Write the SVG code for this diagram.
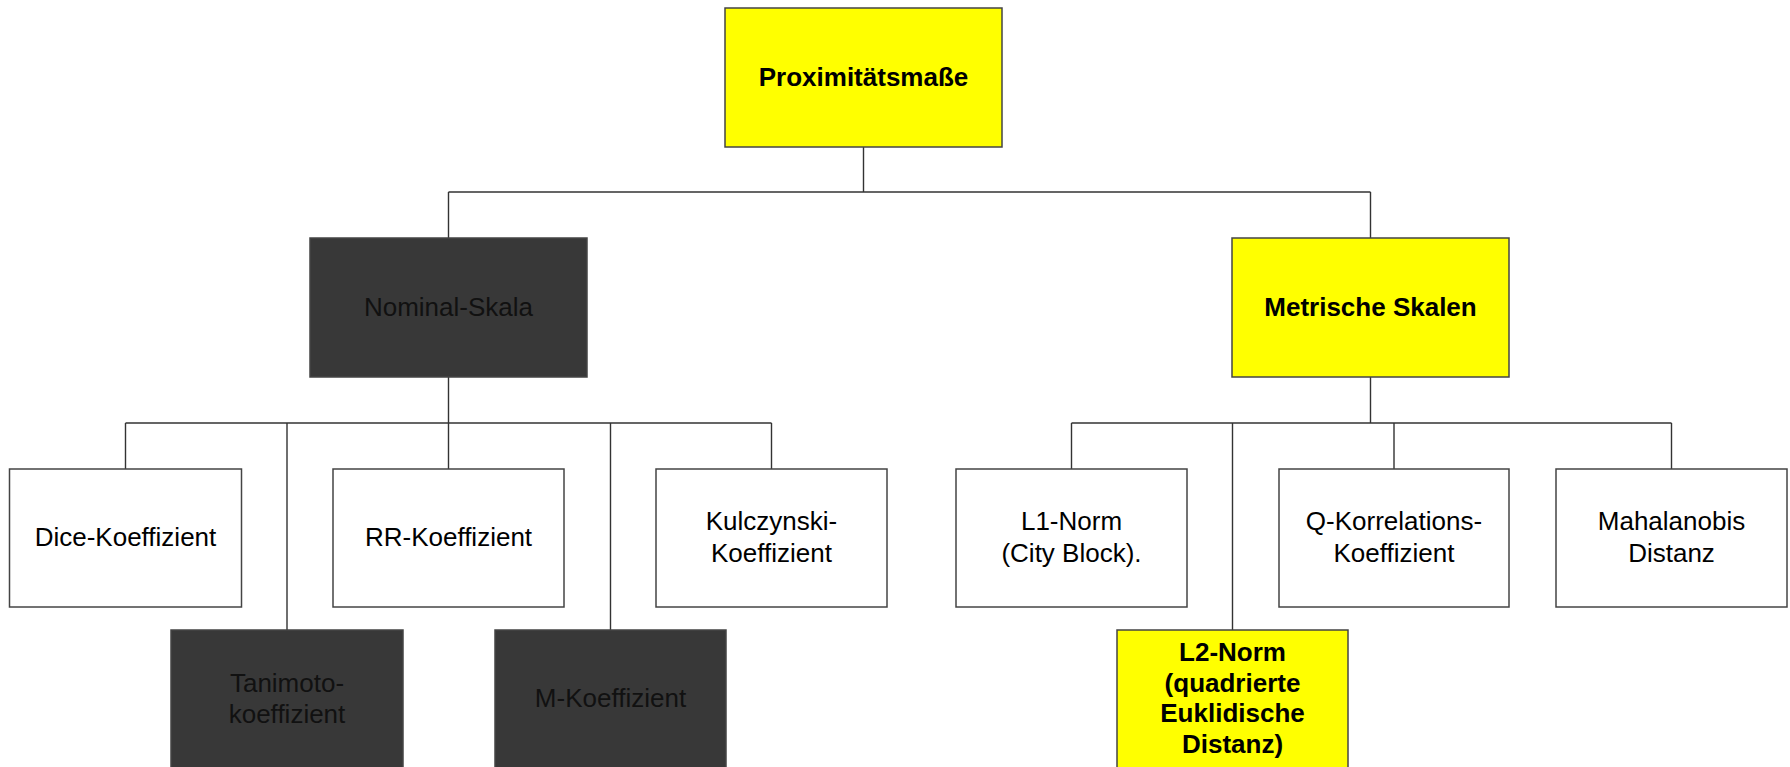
<svg xmlns="http://www.w3.org/2000/svg" width="1790" height="767" viewBox="0 0 1790 767">
<style>
.box{stroke:#444;stroke-width:1.5}
.w{fill:#fff}
.y{fill:#ffff00}
.d{fill:#383838}
.t{font-family:"Liberation Sans",Arial,sans-serif;font-size:26px;text-anchor:middle;fill:#000}
.b{font-weight:bold}
.dt{fill:#111}
.c{fill:none;stroke:#333;stroke-width:1.4}
</style>
<rect width="1790" height="767" fill="#fff"/>
<g id="connectors">
<path class="c" d="M863.5 147V192M448.5 192H1370.5M448.5 192V238M1370.5 192V238"/>
<path class="c" d="M448.5 377V469M125.5 423H771.5M125.5 423V469M287 423V630M610.5 423V630M771.5 423V469"/>
<path class="c" d="M1370.5 377V423M1071.5 423H1671.5M1071.5 423V469M1232.5 423V630M1394 423V469M1671.5 423V469"/>
</g>
<g id="n-proximitaetsmasse">
<rect class="box y" x="725" y="8" width="277" height="139"/>
<text class="t b" x="863.5" y="86">Proximitätsmaße</text>
</g>
<g id="n-nominal">
<rect class="box d" x="310" y="238" width="277" height="139"/>
<text class="t dt" x="448.5" y="316">Nominal-Skala</text>
</g>
<g id="n-metrisch">
<rect class="box y" x="1232" y="238" width="277" height="139"/>
<text class="t b" x="1370.5" y="316">Metrische Skalen</text>
</g>
<g id="n-dice">
<rect class="box w" x="9.5" y="469" width="232" height="138"/>
<text class="t" x="125.5" y="546">Dice-Koeffizient</text>
</g>
<g id="n-rr">
<rect class="box w" x="333" y="469" width="231" height="138"/>
<text class="t" x="448.5" y="546">RR-Koeffizient</text>
</g>
<g id="n-kulczynski">
<rect class="box w" x="656" y="469" width="231" height="138"/>
<text class="t" x="771.5" y="530">Kulczynski-</text>
<text class="t" x="771.5" y="561.5">Koeffizient</text>
</g>
<g id="n-l1">
<rect class="box w" x="956" y="469" width="231" height="138"/>
<text class="t" x="1071.5" y="530">L1-Norm</text>
<text class="t" x="1071.5" y="561.5">(City Block).</text>
</g>
<g id="n-q">
<rect class="box w" x="1279" y="469" width="230" height="138"/>
<text class="t" x="1394" y="530">Q-Korrelations-</text>
<text class="t" x="1394" y="561.5">Koeffizient</text>
</g>
<g id="n-mahalanobis">
<rect class="box w" x="1556" y="469" width="231" height="138"/>
<text class="t" x="1671.5" y="530">Mahalanobis</text>
<text class="t" x="1671.5" y="561.5">Distanz</text>
</g>
<g id="n-tanimoto">
<rect class="box d" x="171" y="630" width="232" height="138"/>
<text class="t dt" x="287" y="691.5">Tanimoto-</text>
<text class="t dt" x="287" y="722.5">koeffizient</text>
</g>
<g id="n-m">
<rect class="box d" x="495" y="630" width="231" height="138"/>
<text class="t dt" x="610.5" y="706.5">M-Koeffizient</text>
</g>
<g id="n-l2">
<rect class="box y" x="1117" y="630" width="231" height="138"/>
<text class="t b" x="1232.5" y="661">L2-Norm</text>
<text class="t b" x="1232.5" y="691.5">(quadrierte</text>
<text class="t b" x="1232.5" y="722">Euklidische</text>
<text class="t b" x="1232.5" y="752.5">Distanz)</text>
</g>
</svg>
